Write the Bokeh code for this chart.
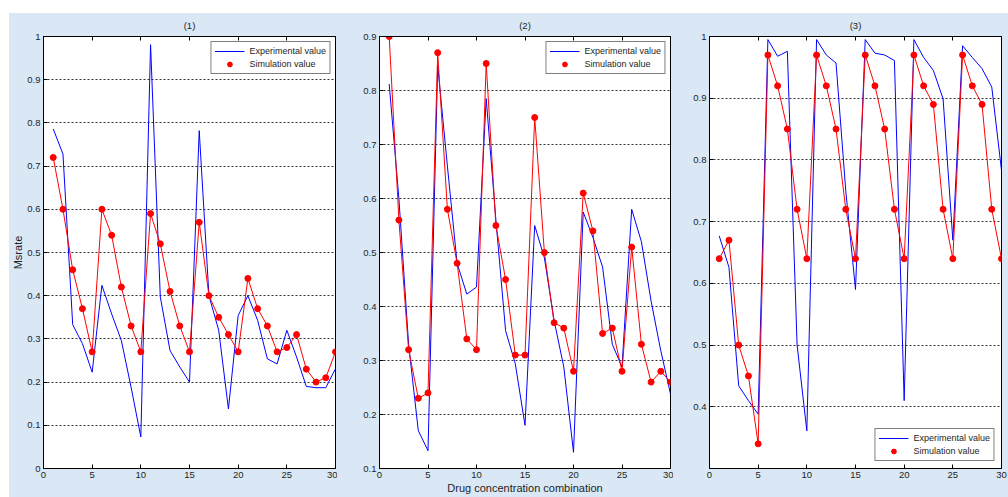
from bokeh.plotting import figure
from bokeh.layouts import row, column, Spacer
from bokeh.models import (Range1d, LinearAxis, FixedTicker, Legend, LegendItem,
                          CustomJSTickFormatter, CustomLabelingPolicy)
from bokeh.embed import file_html
from bokeh.resources import INLINE

# ---------------- data ----------------
combo = list(range(1, 31))

exp1 = [0.786, 0.728, 0.333, 0.289, 0.223, 0.424, 0.358, 0.296, 0.188, 0.073,
        0.981, 0.397, 0.273, 0.235, 0.200, 0.782, 0.400, 0.320, 0.138, 0.354,
        0.400, 0.343, 0.254, 0.242, 0.320, 0.258, 0.190, 0.187, 0.187, 0.231]
sim1 = [0.72, 0.60, 0.46, 0.37, 0.27, 0.60, 0.54, 0.42, 0.33, 0.27,
        0.59, 0.52, 0.41, 0.33, 0.27, 0.57, 0.40, 0.35, 0.31, 0.27,
        0.44, 0.37, 0.33, 0.27, 0.28, 0.31, 0.23, 0.20, 0.21, 0.27]

exp2 = [0.812, 0.600, 0.330, 0.170, 0.133, 0.846, 0.660, 0.480, 0.423, 0.436,
        0.785, 0.560, 0.355, 0.294, 0.180, 0.550, 0.490, 0.374, 0.288, 0.130,
        0.575, 0.528, 0.473, 0.330, 0.288, 0.580, 0.520, 0.410, 0.318, 0.238]
sim2 = [0.90, 0.56, 0.32, 0.23, 0.24, 0.87, 0.58, 0.48, 0.34, 0.32,
        0.85, 0.55, 0.45, 0.31, 0.31, 0.75, 0.50, 0.37, 0.36, 0.28,
        0.61, 0.54, 0.35, 0.36, 0.28, 0.51, 0.33, 0.26, 0.28, 0.26]

exp3 = [0.677, 0.626, 0.434, 0.410, 0.388, 0.995, 0.968, 0.976, 0.500, 0.361,
        0.995, 0.970, 0.957, 0.750, 0.590, 0.995, 0.973, 0.970, 0.961, 0.410,
        0.995, 0.966, 0.945, 0.899, 0.670, 0.985, 0.966, 0.948, 0.918, 0.783]
sim3 = [0.64, 0.67, 0.50, 0.45, 0.34, 0.97, 0.92, 0.85, 0.72, 0.64,
        0.97, 0.92, 0.85, 0.72, 0.64, 0.97, 0.92, 0.85, 0.72, 0.64,
        0.97, 0.92, 0.89, 0.72, 0.64, 0.97, 0.92, 0.89, 0.72, 0.64]

titles = ["(1)", "(2)", "(3)"]
exp_series = [exp1, exp2, exp3]
sim_series = [sim1, sim2, sim3]
y_limits = [(0.0, 1.0), (0.1, 0.9), (0.3, 1.0)]
y_ticks = [
    [0, 0.1, 0.2, 0.3, 0.4, 0.5, 0.6, 0.7, 0.8, 0.9, 1],
    [0.1, 0.2, 0.3, 0.4, 0.5, 0.6, 0.7, 0.8, 0.9],
    [0.4, 0.5, 0.6, 0.7, 0.8, 0.9, 1],
]
x_ticks = [0, 5, 10, 15, 20, 25, 30]
legend_labels = ["Experimental value", "Simulation value"]
legend_locs = ["top_right", "top_right", "bottom_right"]
x_title = "Drug concentration combination"
y_title = "Msrate"

# ---------------- style ----------------
BG = "#dae8f6"
FONT = "Liberation Sans"
TXT = "#1e1e1e"
widths = [328, 336, 335]
lefts = [34, 42, 36]
rights = [2, 3, 7]
legend_margins = [5, 5, 7]

fmt_code = "return String(Math.round(tick*10)/10)"
no_labels = "return new Set()"


def make_panel(i):
    p = figure(width=widths[i], height=484, output_backend="svg",
               toolbar_location=None,
               x_range=Range1d(0, 30), y_range=Range1d(*y_limits[i]),
               min_border_left=lefts[i], min_border_right=rights[i],
               min_border_top=23, min_border_bottom=29,
               border_fill_color=BG, background_fill_color="white",
               outline_line_color="black", outline_line_width=1,
               title=titles[i])
    p.title.align = "center"
    p.title.text_font = FONT
    p.title.text_font_size = "9.5px"
    p.title.text_font_style = "normal"
    p.title.text_color = TXT
    p.title.standoff = 4

    xax = p.below[0]
    yax = p.left[0]
    xax.ticker = FixedTicker(ticks=x_ticks)
    yax.ticker = FixedTicker(ticks=y_ticks[i])
    yax.formatter = CustomJSTickFormatter(code=fmt_code)
    for ax in (xax, yax):
        ax.major_tick_in = 4
        ax.major_tick_out = 0
        ax.minor_tick_line_color = None
        ax.axis_line_color = "black"
        ax.major_tick_line_color = "black"
        ax.major_label_text_font = FONT
        ax.major_label_text_font_size = "9.5px"
        ax.major_label_text_color = TXT
        ax.major_label_standoff = 3

    # tick marks on the top edge (box), without labels
    top = LinearAxis(ticker=FixedTicker(ticks=x_ticks), major_tick_in=4,
                     major_tick_out=0, minor_tick_line_color=None,
                     major_label_text_font_size="1px", major_label_standoff=0,
                     major_label_policy=CustomLabelingPolicy(code=no_labels),
                     axis_line_color="black")
    p.add_layout(top, "above")

    p.xgrid.grid_line_color = None
    p.ygrid.grid_line_color = "#333333"
    p.ygrid.grid_line_dash = "2 2"
    p.ygrid.grid_line_width = 1

    blue = p.line(combo, exp_series[i], line_color="#0000ff", line_width=1)
    p.line(combo, sim_series[i], line_color="#ff0000", line_width=1)
    dots = p.scatter(combo, sim_series[i], size=6, marker="circle",
                     fill_color="#ff0000", line_color="#ff0000", line_width=1)

    legend = Legend(items=[LegendItem(label=legend_labels[0], renderers=[blue]),
                           LegendItem(label=legend_labels[1], renderers=[dots])],
                    location=legend_locs[i], margin=legend_margins[i],
                    padding=3, spacing=1, label_height=12, glyph_height=12,
                    glyph_width=30, label_standoff=5,
                    label_text_font=FONT, label_text_font_size="9px",
                    label_text_color=TXT,
                    border_line_color="black", border_line_width=1,
                    background_fill_color="white", background_fill_alpha=1)
    p.add_layout(legend)
    return p


panels = [make_panel(i) for i in range(3)]

# y axis title on the first panel's left axis
yax0 = panels[0].left[0]
yax0.axis_label = y_title
yax0.axis_label_text_font = FONT
yax0.axis_label_text_font_size = "11px"
yax0.axis_label_text_font_style = "normal"
yax0.axis_label_text_color = TXT
yax0.axis_label_standoff = 0

# x axis title under the middle panel
xax1 = panels[1].below[0]
xax1.axis_label = x_title
xax1.axis_label_text_font = FONT
xax1.axis_label_text_font_size = "11px"
xax1.axis_label_text_font_style = "normal"
xax1.axis_label_text_color = TXT
xax1.axis_label_standoff = 1

layout = column(
    Spacer(width=1008, height=13),
    row(Spacer(width=9, height=484, styles={"background-color": "white"}),
        *panels, spacing=0, styles={"background-color": BG}),
    spacing=0,
)

open("out.html", "w").write(file_html(layout, INLINE))
